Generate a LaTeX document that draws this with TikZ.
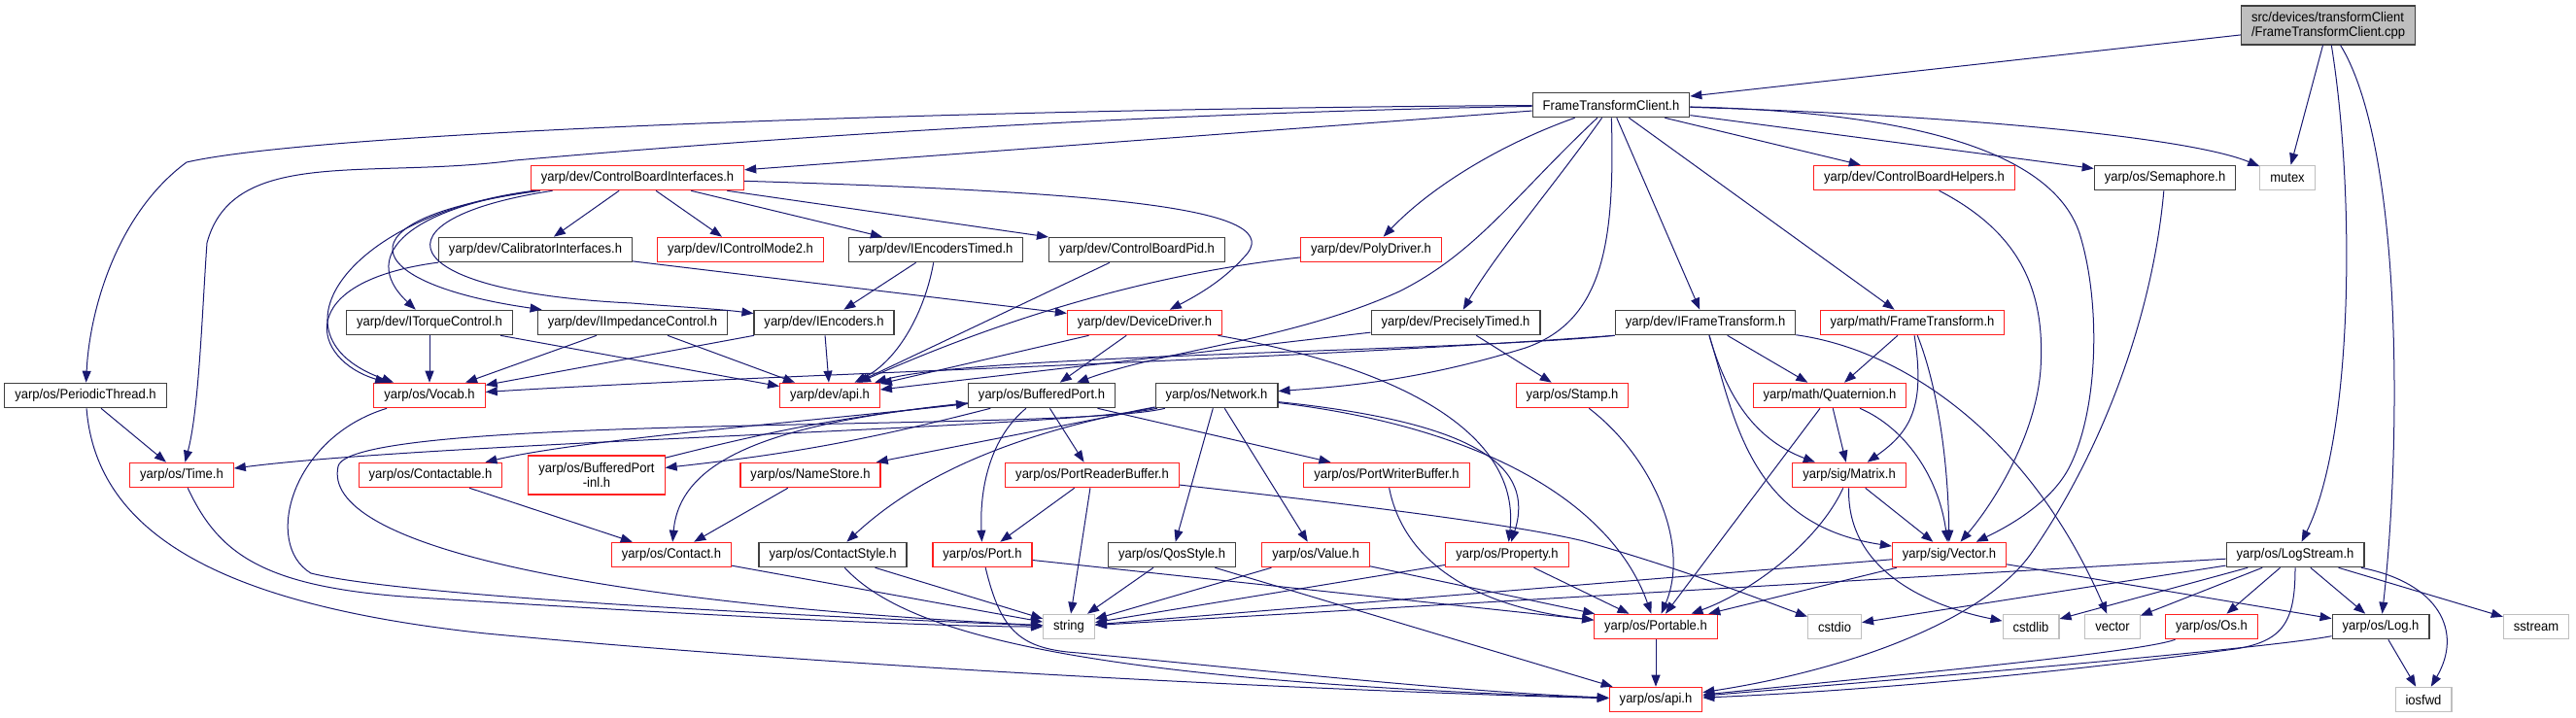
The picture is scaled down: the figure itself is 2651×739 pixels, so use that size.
\documentclass[tikz,border=0pt]{standalone}
\usepackage{fontspec}
\usetikzlibrary{arrows.meta}
\newfontfamily\graphfont{Liberation Sans}[FakeStretch=0.93]
\definecolor{edgeblue}{HTML}{191970}
\definecolor{docgray}{HTML}{404040}
\definecolor{sysgray}{HTML}{BFBFBF}
\definecolor{truncred}{HTML}{FF2020}
\tikzset{
  box/.style={rectangle, draw, line width=1.1pt, fill=white, minimum height=25.5pt,
    inner xsep=10.5pt, inner ysep=0pt, font={\graphfont\fontsize{14}{15}\selectfont}},
  doc/.style={box, draw=docgray},
  trunc/.style={box, draw=truncred},
  sys/.style={box, draw=sysgray},
  srcfile/.style={box, draw=docgray, fill=sysgray, align=left, minimum height=40pt},
  incl/.style={->, draw=edgeblue, line width=1pt}
}
\begin{document}
\begin{tikzpicture}[x=1pt, y=-1pt, >={Stealth[inset=0pt,length=12pt,width=9pt]}]
  \useasboundingbox (0,0) rectangle (2651,739);
  \node[srcfile] (cpp) at (2396,26) {src/devices/transformClient\\/FrameTransformClient.cpp};
  \node[doc] (ftc) at (1658,108) {FrameTransformClient.h};
  \node[trunc] (cbi) at (656,183) {yarp/dev/ControlBoardInterfaces.h};
  \node[trunc] (cbh) at (1970,183) {yarp/dev/ControlBoardHelpers.h};
  \node[doc] (sem) at (2228,183) {yarp/os/Semaphore.h};
  \node[sys] (mutex) at (2354,183) {mutex};
  \node[doc] (calib) at (551,257) {yarp/dev/CalibratorInterfaces.h};
  \node[trunc] (icm2) at (762,257) {yarp/dev/IControlMode2.h};
  \node[doc] (iet) at (963,257) {yarp/dev/IEncodersTimed.h};
  \node[doc] (pid) at (1170,257) {yarp/dev/ControlBoardPid.h};
  \node[trunc] (poly) at (1411,257) {yarp/dev/PolyDriver.h};
  \node[doc] (itq) at (442,332) {yarp/dev/ITorqueControl.h};
  \node[doc] (iimp) at (651,332) {yarp/dev/IImpedanceControl.h};
  \node[doc] (ienc) at (848,332) {yarp/dev/IEncoders.h};
  \node[trunc] (ddrv) at (1178,332) {yarp/dev/DeviceDriver.h};
  \node[doc] (ptim) at (1498,332) {yarp/dev/PreciselyTimed.h};
  \node[doc] (ift) at (1755,332) {yarp/dev/IFrameTransform.h};
  \node[trunc] (mft) at (1968,332) {yarp/math/FrameTransform.h};
  \node[doc] (pth) at (88,407) {yarp/os/PeriodicThread.h};
  \node[trunc] (vocab) at (442,407) {yarp/os/Vocab.h};
  \node[trunc] (devapi) at (854,407) {yarp/dev/api.h};
  \node[doc] (bport) at (1072,407) {yarp/os/BufferedPort.h};
  \node[doc] (net) at (1252,407) {yarp/os/Network.h};
  \node[trunc] (stamp) at (1618,407) {yarp/os/Stamp.h};
  \node[trunc] (quat) at (1883,407) {yarp/math/Quaternion.h};
  \node[trunc] (time) at (187,489) {yarp/os/Time.h};
  \node[trunc] (ctable) at (443,489) {yarp/os/Contactable.h};
  \node[trunc, align=center, minimum height=40pt] (bpinl) at (614,489) {yarp/os/BufferedPort\\-inl.h};
  \node[trunc] (nstore) at (834,489) {yarp/os/NameStore.h};
  \node[trunc] (prb) at (1124,489) {yarp/os/PortReaderBuffer.h};
  \node[trunc] (pwb) at (1427,489) {yarp/os/PortWriterBuffer.h};
  \node[trunc] (matrix) at (1903,489) {yarp/sig/Matrix.h};
  \node[trunc] (contact) at (691,571) {yarp/os/Contact.h};
  \node[doc] (cstyle) at (857,571) {yarp/os/ContactStyle.h};
  \node[trunc] (port) at (1011,571) {yarp/os/Port.h};
  \node[doc] (qos) at (1206,571) {yarp/os/QosStyle.h};
  \node[trunc] (value) at (1354,571) {yarp/os/Value.h};
  \node[trunc] (prop) at (1551,571) {yarp/os/Property.h};
  \node[trunc] (svec) at (2006,571) {yarp/sig/Vector.h};
  \node[doc] (lstream) at (2362,571) {yarp/os/LogStream.h};
  \node[sys] (string) at (1100,645) {string};
  \node[trunc] (portable) at (1704,645) {yarp/os/Portable.h};
  \node[sys] (cstdio) at (1888,645) {cstdio};
  \node[sys] (cstdlib) at (2090,645) {cstdlib};
  \node[sys] (vector) at (2174,645) {vector};
  \node[trunc] (os) at (2276,645) {yarp/os/Os.h};
  \node[doc] (log) at (2450,645) {yarp/os/Log.h};
  \node[sys] (sstream) at (2610,645) {sstream};
  \node[trunc] (osapi) at (1704,720) {yarp/os/api.h};
  \node[sys] (iosfwd) at (2494,720) {iosfwd};

  \draw[incl] (cpp) -- (ftc);
  \draw[incl] (cpp) -- (mutex);
  \draw[incl] (cpp) .. controls (2424,200) and (2422,450) .. (lstream);
  \draw[incl] (cpp) .. controls (2472,150) and (2472,450) .. (log);

  \draw[incl] (ftc) .. controls (1000,112) and (330,135) .. (192,167) .. controls (120,220) and (92,320) .. (pth);
  \draw[incl] (ftc) .. controls (1100,118) and (700,150) .. (530,165) .. controls (380,185) and (240,150) .. (213,250) .. controls (208,320) and (205,420) .. (time);
  \draw[incl] (ftc) -- (cbi);
  \draw[incl] (ftc) .. controls (1540,150) and (1470,195) .. (poly);
  \draw[incl] (ftc) .. controls (1560,200) and (1520,260) .. (1440,300) .. controls (1330,350) and (1200,360) .. (bport);
  \draw[incl] (ftc) .. controls (1600,190) and (1540,260) .. (ptim);
  \draw[incl] (ftc) .. controls (1662,250) and (1650,330) .. (1570,358) .. controls (1460,392) and (1380,398) .. (net);
  \draw[incl] (ftc) -- (ift);
  \draw[incl] (ftc) -- (mft);
  \draw[incl] (ftc) -- (cbh);
  \draw[incl] (ftc) -- (sem);
  \draw[incl] (ftc) .. controls (2000,118) and (2250,140) .. (mutex);
  \draw[incl] (ftc) .. controls (1950,115) and (2110,150) .. (2140,240) .. controls (2162,310) and (2160,420) .. (2130,480) .. controls (2110,520) and (2060,545) .. (svec);

  \draw[incl] (cbi) -- (calib);
  \draw[incl] (cbi) -- (icm2);
  \draw[incl] (cbi) -- (iet);
  \draw[incl] (cbi) -- (pid);
  \draw[incl] (cbi) .. controls (1150,198) and (1330,215) .. (1280,265) .. controls (1262,285) and (1240,300) .. (ddrv);
  \draw[incl] (cbi) .. controls (430,212) and (365,260) .. (itq);
  \draw[incl] (cbi) .. controls (340,225) and (370,292) .. (iimp);
  \draw[incl] (cbi) .. controls (380,225) and (400,300) .. (650,312) .. controls (700,316) and (740,318) .. (ienc);
  \draw[incl] (cbi) .. controls (360,220) and (270,345) .. (vocab);
  \draw[incl] (calib) .. controls (300,290) and (320,370) .. (vocab);
  \draw[incl] (calib) -- (ddrv);
  \draw[incl] (iet) -- (ienc);
  \draw[incl] (iet) .. controls (952,320) and (925,370) .. (devapi);
  \draw[incl] (pid) -- (devapi);
  \draw[incl] (poly) .. controls (1200,280) and (1050,320) .. (devapi);
  \draw[incl] (itq) -- (vocab);
  \draw[incl] (itq) -- (devapi);
  \draw[incl] (iimp) -- (vocab);
  \draw[incl] (iimp) -- (devapi);
  \draw[incl] (ienc) -- (vocab);
  \draw[incl] (ienc) -- (devapi);
  \draw[incl] (ddrv) -- (devapi);
  \draw[incl] (ddrv) -- (bport);
  \draw[incl] (ddrv) .. controls (1450,380) and (1565,450) .. (prop);
  \draw[incl] (ptim) -- (devapi);
  \draw[incl] (ptim) -- (stamp);
  \draw[incl] (ift.south west) .. controls (1500,362) and (1000,365) .. (devapi);
  \draw[incl] (ift.south west) .. controls (1300,372) and (800,385) .. (vocab);
  \draw[incl] (ift) -- (quat);
  \draw[incl] (ift) .. controls (1775,400) and (1800,450) .. (matrix);
  \draw[incl] (ift) .. controls (1785,430) and (1800,540) .. (svec);
  \draw[incl] (ift) .. controls (1960,360) and (2090,450) .. (vector);
  \draw[incl] (mft) -- (quat);
  \draw[incl] (mft) .. controls (1982,420) and (1965,445) .. (matrix);
  \draw[incl] (mft) .. controls (1995,400) and (2005,480) .. (svec);
  \draw[incl] (cbh) .. controls (2080,240) and (2105,300) .. (2100,380) .. controls (2095,450) and (2050,520) .. (svec);
  \draw[incl] (sem) .. controls (2215,330) and (2160,470) .. (2090,570) .. controls (2040,640) and (1900,690) .. (osapi);

  \draw[incl] (pth) -- (time);
  \draw[incl] (pth) .. controls (100,560) and (250,625) .. (500,652) .. controls (900,690) and (1400,712) .. (osapi);
  \draw[incl] (vocab) .. controls (300,450) and (270,560) .. (320,590) .. controls (420,615) and (850,635) .. (string);
  \draw[incl] (time) .. controls (225,570) and (270,605) .. (430,615) .. controls (700,632) and (950,645) .. (string);

  \draw[incl] (net) .. controls (1100,440) and (450,455) .. (time);
  \draw[incl] (net) -- (nstore);
  \draw[incl] (net) .. controls (1050,445) and (950,485) .. (cstyle);
  \draw[incl] (net) -- (qos);
  \draw[incl] (net) -- (value);
  \draw[incl] (net) .. controls (1520,435) and (1580,480) .. (prop);
  \draw[incl] (net) .. controls (1530,440) and (1660,520) .. (portable);
  \draw[incl] (net) .. controls (1100,445) and (360,425) .. (348,480) .. controls (330,560) and (600,620) .. (string);

  \draw[incl] (bport) .. controls (850,432) and (600,452) .. (ctable);
  \draw[incl] (bport) to[bend left=4] (bpinl);
  \draw[incl] (bpinl) to[bend left=4] (bport);
  \draw[incl] (bport) .. controls (800,435) and (700,470) .. (contact);
  \draw[incl] (bport) .. controls (1020,450) and (1008,500) .. (port);
  \draw[incl] (bport) -- (prb);
  \draw[incl] (bport) -- (pwb);

  \draw[incl] (nstore) -- (contact);
  \draw[incl] (ctable) -- (contact);
  \draw[incl] (prb) -- (port);
  \draw[incl] (prb) -- (string);
  \draw[incl] (prb) .. controls (1400,520) and (1560,540) .. (1630,557) .. controls (1730,585) and (1820,620) .. (cstdio);
  \draw[incl] (pwb) .. controls (1445,580) and (1520,625) .. (portable);
  \draw[incl] (contact) -- (string);
  \draw[incl] (cstyle) -- (string);
  \draw[incl] (cstyle) .. controls (930,650) and (1100,700) .. (osapi);
  \draw[incl] (port) -- (portable);
  \draw[incl] (port) .. controls (1030,650) and (1050,668) .. (1110,672) .. controls (1300,690) and (1500,712) .. (osapi);
  \draw[incl] (qos) -- (string);
  \draw[incl] (qos) -- (osapi);
  \draw[incl] (value) -- (string);
  \draw[incl] (value) -- (portable);
  \draw[incl] (prop) -- (string);
  \draw[incl] (prop) -- (portable);
  \draw[incl] (stamp) .. controls (1700,470) and (1740,560) .. (portable);
  \draw[incl] (quat) -- (portable);
  \draw[incl] (quat) -- (matrix);
  \draw[incl] (quat) .. controls (1960,440) and (1995,490) .. (svec);
  \draw[incl] (matrix) -- (svec);
  \draw[incl] (matrix) .. controls (1870,560) and (1800,610) .. (portable);
  \draw[incl] (matrix) .. controls (1900,590) and (1990,625) .. (cstdlib);
  \draw[incl] (svec) -- (portable);
  \draw[incl] (svec) -- (string);
  \draw[incl] (svec) -- (log);

  \draw[incl] (lstream) -- (string);
  \draw[incl] (lstream) -- (cstdio);
  \draw[incl] (lstream) -- (cstdlib);
  \draw[incl] (lstream) -- (vector);
  \draw[incl] (lstream) -- (os);
  \draw[incl] (lstream) -- (log);
  \draw[incl] (lstream) -- (sstream);
  \draw[incl] (lstream) .. controls (2510,600) and (2535,650) .. (iosfwd);
  \draw[incl] (lstream) .. controls (2362,640) and (2350,660) .. (2300,668) .. controls (2100,695) and (1900,712) .. (osapi);
  \draw[incl] (os) .. controls (2200,672) and (1950,695) .. (osapi);
  \draw[incl] (log) .. controls (2330,668) and (1950,700) .. (osapi);
  \draw[incl] (log) -- (iosfwd);
  \draw[incl] (portable) -- (osapi);
\end{tikzpicture}
\end{document}
